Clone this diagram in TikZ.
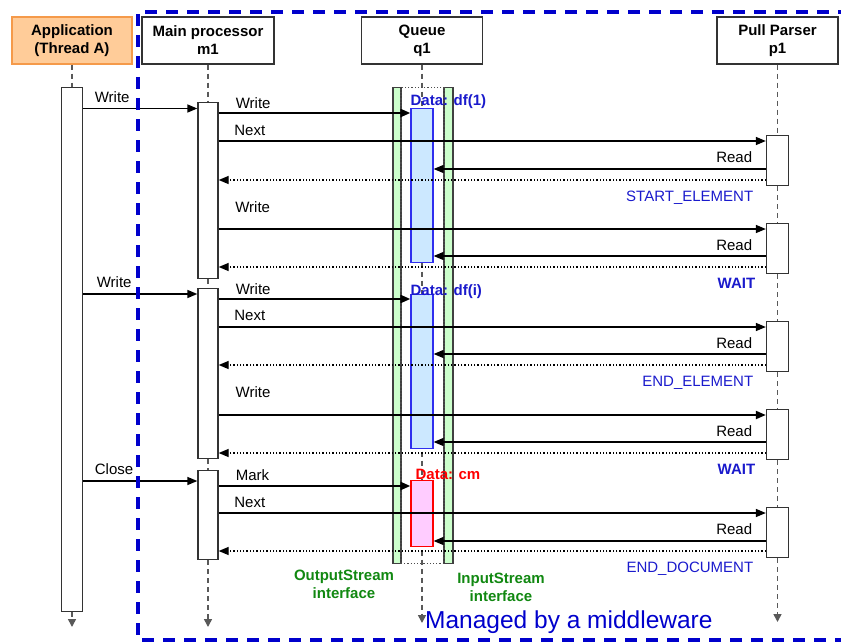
\documentclass[tikz,border=0pt]{standalone}
\usepackage{fontspec}
\setmainfont{Liberation Sans}
\usetikzlibrary{arrows.meta,positioning}
\definecolor{appfill}{HTML}{FFCC99}
\definecolor{appedge}{HTML}{F59A4A}
\definecolor{mwblue}{HTML}{0000CC}
\definecolor{stblue}{HTML}{1A1ACC}
\definecolor{ifgreen}{HTML}{CCFFCC}
\definecolor{iftext}{HTML}{118811}
\definecolor{dffill}{HTML}{CCE8FF}
\definecolor{dfedge}{HTML}{2F2FEE}
\definecolor{cmfill}{HTML}{FFCCFF}

\begin{document}
\begin{tikzpicture}[x=1pt, y=-1pt, font=\fontsize{15}{18}\selectfont,
  hdr/.style={draw=black!80, line width=1.3pt, fill=white, align=center, font=\fontsize{15}{18}\selectfont\bfseries, minimum height=47pt, inner sep=2pt},
  act/.style={draw=black!80, line width=1.3pt, fill=white, minimum width=21pt, inner sep=0pt, anchor=north},
  bar/.style={draw=black!75, line width=1.1pt, fill=ifgreen, minimum width=8pt, minimum height=476pt, inner sep=0pt, anchor=north},
  databox/.style={draw=dfedge, line width=1.2pt, fill=dffill, minimum width=22pt, inner sep=0pt, anchor=north},
  life/.style={black!65, line width=1.6pt, dash pattern=on 5pt off 4pt},
  lifeend/.style={life, -{Triangle[length=8pt,width=8pt]}},
  msg/.style={line width=1.4pt, -{Triangle[length=10pt,width=8pt]}},
  heavy/.style={msg, line width=2.4pt},
  ret/.style={line width=1.3pt, dotted, -{Triangle[length=10pt,width=8pt]}},
  lab/.style={inner sep=0pt, pos=0},
  lbl/.style={lab, anchor=base west, xshift=#1, yshift=6pt}, lbl/.default=15pt,
  rlbl/.style={lab, anchor=base east, xshift=-13pt, yshift=7pt},
  state/.style={lab, anchor=base east, xshift=-12pt, yshift=-21pt, text=stblue},
  dlab/.style={inner sep=0pt, anchor=base west, font=\fontsize{15}{18}\selectfont\bfseries},
  iface/.style={align=center, text=iftext, font=\fontsize{15}{18}\selectfont\bfseries}]
\useasboundingbox (0,0) rectangle (841,642);

\foreach \n/\y in {1/108.5,2/113,3/141,4/169,5/180,6/229,7/256,8/267,9/294,10/299,11/327,
  12/354,13/365,14/415,15/442,16/453,17/481,18/486,19/513,20/541,21/551}
  \coordinate (r\n) at (0,\y);

\node[hdr, fill=appfill, draw=appedge, minimum width=120pt] (app) at (72,40.5) {Application\\(Thread A)};
\node[hdr, minimum width=132pt] (m1) at (208,40.5) {Main processor\\m1};
\node[hdr, minimum width=121pt] (q1) at (422,40.5) {Queue\\q1};
\node[hdr, minimum width=121pt] (p1) at (777.5,40.5) {Pull Parser\\p1};

\coordinate (append) at (72,627);
\coordinate (m1end) at (208,627);
\coordinate (qend) at (422,623);
\coordinate (p1end) at (777.5,622);

\draw[lifeend] (q1.south) -- (qend);

\node[bar] (obar) at (397,87) {};
\node[bar, minimum width=9pt] (ibar) at (448.5,87) {};
\node[draw=black!70, line width=1.2pt, dotted, minimum width=43pt, minimum height=476pt, inner sep=0pt, anchor=north] (qframe) at (422.5,87) {};

\node[databox, minimum height=154pt] (df1) at (422,108) {};
\node[databox, minimum height=154pt] (dfi) at (422,294) {};
\node[databox, draw=red, fill=cmfill, minimum height=66pt] (cm) at (422,480) {};
\node[dlab, text=stblue] (df1lab) at ([yshift=2pt]df1.north west) {Data: df(1)};
\node[dlab, text=stblue] (dfilab) at ([yshift=-1pt]dfi.north west) {Data: df(i)};
\node[dlab, text=red] (cmlab) at ([xshift=5pt,yshift=1pt]cm.north west) {Data: cm};

\node[act, minimum height=524pt] (appact) at (72,87) {};
\node[act, minimum width=20pt, minimum height=176pt] (m1a1) at (208,102) {};
\node[act, minimum width=20pt, minimum height=170pt] (m1a2) at (208,288) {};
\node[act, minimum width=20pt, minimum height=89pt] (m1a3) at (208,470) {};
\foreach \i/\t in {1/135,2/223,3/321,4/409,5/507}
  \node[act, minimum width=22pt, minimum height=50pt] (p1a\i) at (777.5,\t) {};

\draw[life] (app.south) -- (appact.north);
\draw[lifeend] (appact.south) -- (append);
\draw[life] (m1.south) -- (m1a1.north);
\draw[life] (m1a1.south) -- (m1a2.north);
\draw[life] (m1a2.south) -- (m1a3.north);
\draw[lifeend] (m1a3.south) -- (m1end);
\draw[life] (p1.south) -- (p1a1.north);
\draw[life] (p1a1.south) -- (p1a2.north);
\draw[life] (p1a2.south) -- (p1a3.north);
\draw[life] (p1a3.south) -- (p1a4.north);
\draw[life] (p1a4.south) -- (p1a5.north);
\draw[lifeend] (p1a5.south) -- (p1end);

\draw[msg] (appact.east |- r1) -- node[lbl=11pt] {Write} (m1a1.west |- r1);
\draw[heavy] (m1a1.east |- r2) -- node[lbl=16pt, yshift=-1pt] {Write} (df1.west |- r2);
\draw[msg] (m1a1.east |- r3) -- node[lbl] {Next} (p1a1.west |- r3);
\draw[msg] (p1a1.west |- r4) -- node[rlbl] {Read} (df1.east |- r4);
\draw[ret] (p1a1.west |- r5) -- node[state] {START\_ELEMENT} (m1a1.east |- r5);
\draw[msg] (m1a1.east |- r6) -- node[lbl=16pt, yshift=11pt] {Write} (p1a2.west |- r6);
\draw[msg] (p1a2.west |- r7) -- node[rlbl, yshift=-1pt] {Read} (df1.east |- r7);
\draw[ret] (p1a2.west |- r8) -- node[state, xshift=2pt, font=\fontsize{15}{18}\selectfont\bfseries] {WAIT} (m1a1.east |- r8);

\draw[msg] (appact.east |- r9) -- node[lbl=13pt, yshift=1pt] {Write} (m1a2.west |- r9);
\draw[heavy] (m1a2.east |- r10) -- node[lbl=16pt, yshift=-1pt] {Write} (dfi.west |- r10);
\draw[msg] (m1a2.east |- r11) -- node[lbl, yshift=1pt] {Next} (p1a3.west |- r11);
\draw[msg] (p1a3.west |- r12) -- node[rlbl, yshift=-1pt] {Read} (dfi.east |- r12);
\draw[ret] (p1a3.west |- r13) -- node[state] {END\_ELEMENT} (m1a2.east |- r13);
\draw[msg, line width=2pt] (m1a2.east |- r14) -- node[lbl=16pt, yshift=12pt] {Write} (p1a4.west |- r14);
\draw[msg] (p1a4.west |- r15) -- node[rlbl, yshift=-1pt] {Read} (dfi.east |- r15);
\draw[ret] (p1a4.west |- r16) -- node[state, xshift=2pt, font=\fontsize{15}{18}\selectfont\bfseries] {WAIT} (m1a2.east |- r16);

\draw[msg] (appact.east |- r17) -- node[lbl=11pt, yshift=1pt] {Close} (m1a3.west |- r17);
\draw[heavy] (m1a3.east |- r18) -- node[lbl=16pt] {Mark} (cm.west |- r18);
\draw[msg] (m1a3.east |- r19) -- node[lbl] {Next} (p1a5.west |- r19);
\draw[msg] (p1a5.west |- r20) -- node[rlbl] {Read} (cm.east |- r20);
\draw[ret] (p1a5.west |- r21) -- node[state] {END\_DOCUMENT} (m1a3.east |- r21);

\node[iface] (olab) at (344,584) {OutputStream\\interface};
\node[iface] (ilab) at (501,587) {InputStream\\interface};

\draw[mwblue, line width=3.5pt, dash pattern=on 12pt off 9pt] (850,12) -- (138,12) -- (138,640) -- (850,640);
\node[text=mwblue, font=\fontsize{24.5}{29}\selectfont, anchor=base west, inner sep=0pt] (mw) at (425,628) {Managed by a middleware};
\end{tikzpicture}
\end{document}
